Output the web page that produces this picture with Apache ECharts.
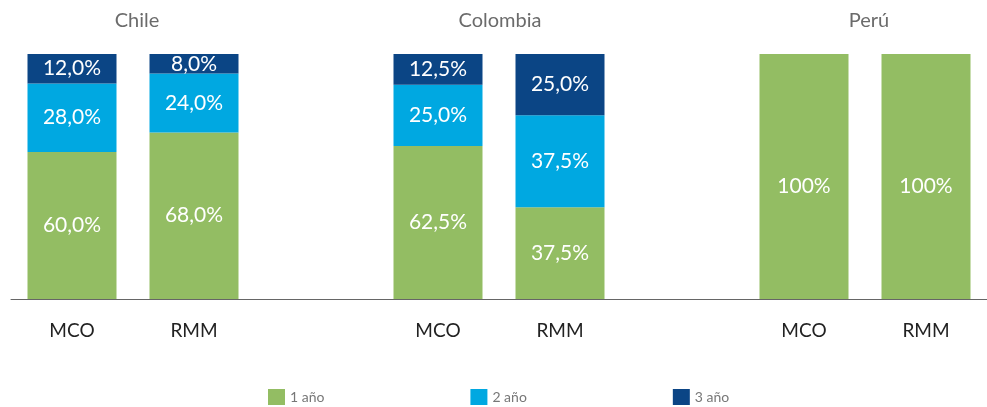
<!DOCTYPE html>
<html>
<head>
<meta charset="utf-8">
<script src="https://cdn.jsdelivr.net/npm/echarts@6/dist/echarts.min.js"></script>
<style>
  html, body { margin: 0; padding: 0; background: #fff; }
  #chart { width: 987px; height: 407px; }
</style>
</head>
<body>
<div id="chart"></div>
<script>
// slots: Chile MCO/RMM, gap, Colombia MCO/RMM, gap, Perú MCO/RMM
const categories = ['MCO', 'RMM', '', 'MCO', 'RMM', '', 'MCO', 'RMM']
const groups = ['Chile', 'Colombia', 'Perú']
const seriesNames = ['1 año', '2 año', '3 año']
const oneYear = [60, 68, null, 62.5, 37.5, null, 100, 100]
const twoYear = [28, 24, null, 25, 37.5, null, null, null]
const threeYear = [12, 8, null, 12.5, 25, null, null, null]
const colors = ['#93bd63', '#00a8e1', '#0b4585']

const font = 'Lato'

const fmt = (p) => {
  const v = p.value
  if (v == null) return ''
  if (v === 100) return '100%'
  return v.toFixed(1).replace('.', ',') + '%'
}

const mkSeries = (name, data, color) => ({
  name,
  type: 'bar',
  stack: 'total',
  // full bars (Perú) have their label sitting a bit lower in the original
  data: data.map(v => (v === 100 ? { value: v, label: { offset: [0, 10] } } : v)),
  barWidth: 89,
  itemStyle: { color },
  label: {
    show: true,
    position: 'inside',
    color: '#fff',
    fontSize: 21,
    fontFamily: font,
    formatter: fmt,
  },
})

const chart = echarts.init(document.getElementById('chart'))

const groupCenters = [137, 500, 869]

chart.setOption({
  animation: false,
  color: colors,
  title: groups.map((g, i) => ({
    text: g,
    left: groupCenters[i],
    top: 11,
    padding: 0,
    textAlign: 'center',
    textStyle: { fontSize: 20, fontWeight: 'normal', color: '#6b6b6b', fontFamily: font },
  })),
  legend: {
    left: 268,
    top: 389,
    padding: 0,
    itemWidth: 17,
    itemHeight: 16,
    itemGap: 146,
    icon: 'rect',
    textStyle: { fontSize: 14, color: '#777', fontFamily: font },
    data: seriesNames,
  },
  grid: { left: 11, right: -4, top: 54, bottom: 108, containLabel: false },
  xAxis: {
    type: 'category',
    data: categories,
    axisTick: { show: false },
    axisLine: { lineStyle: { color: '#666', width: 1 } },
    axisLabel: { fontSize: 19, color: '#222', fontFamily: font, margin: 22 },
  },
  yAxis: { type: 'value', min: 0, max: 100, show: false },
  series: [
    mkSeries(seriesNames[0], oneYear, colors[0]),
    mkSeries(seriesNames[1], twoYear, colors[1]),
    mkSeries(seriesNames[2], threeYear, colors[2]),
  ],
})
</script>
</body>
</html>
